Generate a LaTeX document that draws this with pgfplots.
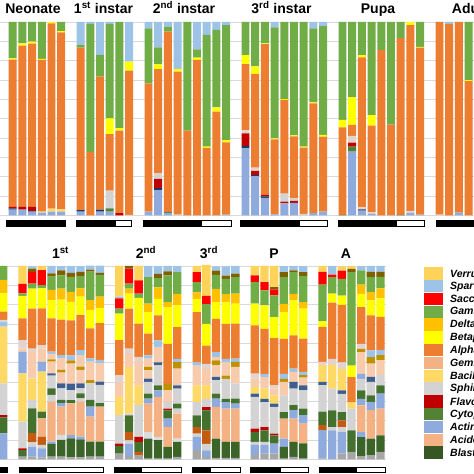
\documentclass[border=0pt]{standalone}
\usepackage{pgfplots}
\pgfplotsset{compat=1.18}
\usepackage{pgfplotstable}
\usepackage{fontspec}
\setmainfont{Liberation Sans}

\definecolor{gridgray}{HTML}{D9D9D9}
\definecolor{cBot}{HTML}{A6A6A6}
\definecolor{cAct}{HTML}{8FAADC}
\definecolor{cGray}{HTML}{D3D3D3}
\definecolor{cGrayL}{HTML}{DCDCDC}
\definecolor{cBlast}{HTML}{3B6428}
\definecolor{cBurnt}{HTML}{C55A11}
\definecolor{cAcid}{HTML}{F4B183}
\definecolor{cCyto}{HTML}{44722E}
\definecolor{cFlavo}{HTML}{C00000}
\definecolor{cNavy}{HTML}{203864}
\definecolor{cNavyB}{HTML}{3E5E8E}
\definecolor{cBacil}{HTML}{FFD966}
\definecolor{cGem}{HTML}{F8CBAD}
\definecolor{cOlive}{HTML}{BF9000}
\definecolor{cSpar}{HTML}{9DC3E6}
\definecolor{cLGray}{HTML}{E2D3CF}
\definecolor{cAlph}{HTML}{ED7D31}
\definecolor{cBeta}{HTML}{FFFF00}
\definecolor{cDelta}{HTML}{FFC000}
\definecolor{cGam}{HTML}{70AD47}
\definecolor{cSacc}{HTML}{FF0000}
\definecolor{cBrown}{HTML}{7F6000}
\definecolor{cVerr}{HTML}{FFD25A}
\definecolor{cCytoL}{HTML}{548235}
\definecolor{cBlastL}{HTML}{375623}

% top panel: t1 Actino, t2 Cyto, t3 navy, t4 Flavo, t5 Sphingo, t6 light, t7 Bacilli, t8 Alpha, t9 Beta, t10 Gamma, t11 Sparto
\pgfplotstableread{
x t1 t2 t3 t4 t5 t6 t7 t8 t9 t10 t11
0 3 0 0.7 0.7 0 0 0 76.1 0.7 18.8 0
1 3 0 0 1.4 0 0 0 83.4 1.2 11 0
2 2 0 0.4 2 0 0 0 84.4 1 10.2 0
3 1.5 0 0 0 0 0 0.5 78.4 0.6 19 0
4 2 0 0 0 0 0 1.6 95.7 0.7 0 0
5 2 0 0 0 0 0 1.2 91.5 0.6 4.7 0
7 2 0 0.8 0 0 0 0 84 0 1.3 11.9
8 0 0 0 0 0 0 0 32.7 0 66.3 1
9 2 0 1 0 0 0 0 68.8 0 11.2 17
10 2 1.7 0 0 9.1 0 0 29.3 8.1 48.8 1
11 0 0 0 1.2 0 0 0 42.7 1.2 54.9 0
12 0 0 0 0 0.3 0 0 74.6 4.6 0 20.5
14 2 0 0 0 0 0 0 66.3 0 28.4 3.3
15 13.1 0 1 4.8 2.9 0 0 53.9 2.4 8.8 13.1
16 1.3 0.5 0 0 0 0 0 93.2 0 2.6 2.4
17 0 0 0 0 0.5 0 0 73.8 1.4 0 24.3
18 0 0 0 0 0 0 0 43.8 0 56.2 0
19 0 0 0 0 0 0 0 80.4 1.2 4.3 14.1
20 0 0 0 0 0 0 0 34.9 0.7 57.7 6.7
21 0 0 0 0 0 0 0 53.7 2.2 40 4.1
22 0.5 0 0 0 0 0 0 37.3 1.2 59.4 1.6
24 34.7 0 1.3 6.4 0 1.7 0 34.1 4.7 17.1 0
25 20.4 0 0.5 2.2 0 1.7 0 48.2 4.1 22.9 0
26 9.1 0 0.8 0.7 0 0 0 77.9 0.5 11 0
27 0.6 0 0 0 0 0 0 38.7 0.5 57.4 2.8
28 6.2 0 0 1 4.1 0 0 48.4 0.5 39.8 0
29 6.5 0 0 1 1.3 0 0 32.1 0.5 58.6 0
30 0 0 0 0 0.8 0 0 34.3 0.5 64.4 0
31 1.4 0 0 0 0 0 0 56.6 0.5 38.2 3.3
32 2 0 0 0 0 0 0 38.8 0.8 56.3 2.1
34 0 0.3 0 0 0 0 0 45.3 3.8 50.6 0
35 33 2.6 0 2.1 0 3.4 0 5.7 14.3 38.9 0
36 2.5 0 0.7 0 0 1 0 77.5 1.2 17.1 0
37 1 0 0 0 0 0.6 0 44.8 5.5 48.1 0
38 0 0 0 0 0 0 0 85.5 0 14.5 0
39 0 0 0 0 0 0 0 46.9 0 53.1 0
40 0 0.3 0 0 0 0 0 91.3 0 8.4 0
41 1.4 0 0 0 0 1 0 96 1.6 0 0
42 0.5 0 0 0 0 0 0 86.2 0.5 12.8 0
44 0 0 0 0 0 0.5 0 99.5 0 0 0
45 0 0 0 0 0 0 0 99 0 0 1
46 1.5 0 0 0 0 0 0 98.5 0 0 0
47 0 0 0 0 0 0 0 69.5 0.5 30 0
}\toptab

% bottom panel layers (bottom -> top)
\pgfplotstableread{
x c1 c2 c3 c4 c5 c6 c7 c8 c9 c10 c11 c12 c13 c14 c15 c16 c17 c18 c19 c20 c21 c22 c23 c24 c25 c26 c27 c28 c29
0 0 13.4 0 0 0 0 0 0 0 0 8.3 1.2 16.4 0 29.3 0 0 0 0 2.6 0.9 4.3 9.5 6.9 7.2 0 0 0 0
2 1.4 0 0 0 0 0 0 0 0 0 3.4 0.9 13.8 0 25.0 11.2 0 0 1.7 0 4.3 11.2 11.6 0 1.4 4.8 0 0 9.3
3 1.4 5.2 2.1 0 4.8 0 0 0 0 0 12.9 0 4.3 0 11 0 13.9 0 0 0 1.7 20.7 10.3 0 2.6 6 1.7 1.2 0
4 1 4.7 1.7 0 4.3 0 0 9.5 0 0 3.4 0 0 0 20.7 5.2 0 0 6.9 0 1.7 19 10.3 0 1.7 7.8 0 0 2.1
5 1.4 0 0 6.6 0 0 1.2 20.7 3.4 0 3.4 0 6.6 1.2 0 0 6 1.2 2.8 1.2 0 17.2 9.5 5.2 6.9 0 1.7 3.8 0
6 1.4 0 0 8.6 0 2.6 0 14.7 0 1.7 1.7 0 6 2.6 0 0 5.5 1.4 6 1.7 0 18.4 10.3 5.7 6.9 0 2.6 2.1 0
7 1 0 0 9.8 0 0 1.7 16.4 0 0 1.7 0 5.2 3.4 0 0 10.3 1.7 0 2.6 0 18.1 9.5 5.2 7.8 0 2.1 3.4 0
8 1 0 0 9.3 0 0 1.4 18.1 1.7 0 2.6 0 2.6 2.6 0 0 6.9 1.7 6 2.6 0 18.1 9.5 4.3 6.4 0 2.2 2.9 0
9 1.4 0 0 7.8 0 0 0 12.9 0 5.2 3.4 0 8.6 0 0 0 0 1.7 9.5 1.7 0 15.5 9.5 5.2 14.7 0 1 2.1 0
10 1.4 0 0 7.8 0 0 0 18.1 0 0 1.7 0 9.5 1.7 0 0 9.5 0 0 1.7 0 19 7.8 6 11.2 0 1 3.8 0
12 2.9 0 0 0 0 0 0 0 0 0 4 1.2 14.7 0 9.5 0 7.4 0 0 0 3.8 18.1 13.8 0 2.6 5.2 0 0.9 16
13 1.7 6.4 1.7 0 4.3 0 0 0 0 0 8.6 0 0.9 0 24.1 0 6.9 0 0 0 2.6 20.7 7.8 2.6 2.6 7.8 1.4 0 0
14 2.1 0 0 0 1.7 0 0 0 0 0 5.2 2.6 16.4 0 10.3 0 12.1 0 0 0 2.6 17.2 13.3 0 2.2 6.9 0 0 7.4
15 0.4 0 0 10.3 0 3.4 0 14.7 0 2.6 2.6 0 6 1.7 0 0 4.4 1.7 4.3 1.7 0 11.2 11.2 4.3 13.8 0 0 5.7 0
16 0.4 0 0 9.5 0 1.7 0 20.7 0 3.4 2.6 0 10.3 1.5 0 0 8 0 0 3.4 0 12.9 8.6 6 4.7 0 2.2 4 0
17 0.4 0 0 6 0 0 0 10.3 0 4.3 4.3 0.9 3.4 0 0 0 6 3.4 0 0 0 20.7 19 2.6 13.8 0 2.1 2.8 0
18 1.2 0 0 7.8 0 1.7 0 12.9 2.6 0 2.6 0 7.8 1.7 0 0 8.6 3.4 0 1.7 0 16.4 11.2 6 11.2 0 0 3.1 0
20 4.7 6.9 1.7 0 3.4 0 0 0 0 0 6 0 6.9 0 8.6 0 6.9 0 3.4 1.7 0 25.9 6.9 3.4 5.2 5.2 0 0 3.1
21 1.2 3.4 3.4 0 6.9 0 0 0 0 0 10.4 1.7 4.3 0 6.9 0 8.6 0 0 0 2.6 9.4 11.2 0 10.3 4.3 0 0 16
22 0.7 0 0 10 0 0 0 16.4 0 4.3 2.6 0 6.9 1.7 0 0 6 2.6 1.7 2.6 0 17.2 8.6 6.9 7.2 0 2.2 2.2 0
23 0.7 0 0 8.3 0 0 0 17.2 0 3.4 1.7 0 10.3 0 0 0 0 1.7 6.9 1.7 0 18.1 11.2 4.3 7.8 0 1.7 4.8 0
24 0.7 0 0 8.3 0 0 0 17.2 0 2.6 2.6 0 7.8 0 0 0 8.6 2.6 0 1.7 0 18.1 10.3 5.2 8.6 0 1.7 4 0
26 2.1 5.5 1.4 0 0 0 0 0 0 0 5.2 1.7 16.4 1.7 3.4 0 4.3 0 0 0 2.6 25 11.2 0 11.2 3.4 0 0 4.8
27 2.9 4.7 1.4 0 0 0 0 0 0 0 6 1.7 12.9 1.7 5.2 0 6 0 0 1.7 0 23.3 12.1 0 7.8 4.3 0 0 8.3
28 2.9 5.2 0 0 0 0 0 0 0 0 4.3 0.9 13.8 1.7 4.3 0 3.4 0 0 0 1.7 24.5 10.9 0 11.2 3.1 1.2 0 10.9
29 0.4 0 0 6 0 0 4.3 10.3 0 0 3.4 0 8.6 0 0 0 7.1 1.5 0 2.6 0 18.1 13.8 4.3 13.8 0 2.6 3.1 0
30 1.2 0 0 7.8 0 0 0 12.1 0 4.3 2.6 0 8.6 3.4 0 0 5.2 0 0 1.7 0 17.2 18.1 3.4 11.2 0 1 2.2 0
31 0.4 0 0 7.8 0 0 0 10.3 0 4.3 3.4 0 9.5 2.6 0 0 4 1.2 0 1.7 0 17.2 15.5 3.4 13.4 0 2.1 3.1 0
33 0.4 14.7 0 0 2.6 0 0 0 0 0 6.9 0 13.8 1.7 8.6 0 0 0 0 0 1.7 18.1 2.9 0 19 6.6 0 0 3.1
34 0 15 1.7 0 0 0 0 0 0 0 8.6 0 11.2 0 12.4 0 0 0 0 0 3.1 29 4.7 0 8.6 1.2 0 4.5 0
35 2.9 11.2 2.6 0 3.4 0 0 0 0 0 4.3 0 9.5 1.7 11.2 0 0 0 0 0 3.4 29.7 4.8 0 8.6 4.3 0 0 2.2
36 3.8 0 0 0 0 0 0 0 0 0 11.2 0 11.2 0 3.4 0 0 0 0 0 0 12.9 6 0 48.3 0 1.7 0 1.4
37 1.7 0 0 9.8 0 0 2.6 13.8 0 3.4 4.3 0 6 0 0 2.6 11.2 1.7 0 0 2.6 19 6.9 4.7 7.4 0 0 2.2 0
38 2.1 0 0 8.6 0 0 0 14.7 0 4.3 3.4 0 6.9 2.6 0 0 6.9 3.4 0 3.4 0 18.1 7.8 4.3 7.8 0 2.6 3.1 0
39 3.8 0 0 8.6 0 0 0 13.8 0 7.8 4.3 0 5.2 0 0 0 7.8 2.6 0 2.6 0 17.2 9.5 5.2 6 0 2.6 3.1 0
}\bottab

\pgfplotsset{
  panel/.style={
    scale only axis, anchor=south west, clip=false,
    ymin=0, ymax=100, ybar stacked,
    ytick={0,10,...,100}, yticklabels={}, xtick=\empty,
    ymajorgrids, major grid style={draw=gridgray, line width=0.7pt},
    axis line style={draw=none}, major tick length=0pt,
  },
  seg/.style={fill=#1, draw=none},
}

\begin{document}
\begin{tikzpicture}
\useasboundingbox (0pt,0pt) rectangle (474pt,474pt);
\clip (0pt,0pt) rectangle (474pt,474pt);

% ---------- top panel ----------
\begin{axis}[panel, at={(0pt,258.5pt)}, width=474pt, height=193.5pt,
  xmin=-1.309, xmax=47.557, bar width=0.82]
\addplot[seg=cAct]   table[x=x,y=t1]  {\toptab};
\addplot[seg=cCytoL] table[x=x,y=t2]  {\toptab};
\addplot[seg=cNavy]  table[x=x,y=t3]  {\toptab};
\addplot[seg=cFlavo] table[x=x,y=t4]  {\toptab};
\addplot[seg=cGray]  table[x=x,y=t5]  {\toptab};
\addplot[seg=cLGray] table[x=x,y=t6]  {\toptab};
\addplot[seg=cBacil] table[x=x,y=t7]  {\toptab};
\addplot[seg=cAlph]  table[x=x,y=t8]  {\toptab};
\addplot[seg=cBeta]  table[x=x,y=t9]  {\toptab};
\addplot[seg=cGam]   table[x=x,y=t10] {\toptab};
\addplot[seg=cSpar]  table[x=x,y=t11] {\toptab};
% group indicator bars
\filldraw[black, line width=0.6pt] (axis cs:-0.62,-2.6) rectangle (axis cs:5.39,-5.4);
\filldraw[black, line width=0.6pt] (axis cs:6.6,-2.6) rectangle (axis cs:10.55,-5.4);
\draw[black, fill=white, line width=0.6pt] (axis cs:10.55,-2.6) rectangle (axis cs:12.27,-5.4);
\filldraw[black, line width=0.6pt] (axis cs:13.43,-2.6) rectangle (axis cs:19.48,-5.4);
\draw[black, fill=white, line width=0.6pt] (axis cs:19.48,-2.6) rectangle (axis cs:22.58,-5.4);
\filldraw[black, line width=0.6pt] (axis cs:23.5,-2.6) rectangle (axis cs:29.5,-5.4);
\draw[black, fill=white, line width=0.6pt] (axis cs:29.5,-2.6) rectangle (axis cs:32.43,-5.4);
\filldraw[black, line width=0.6pt] (axis cs:33.57,-2.6) rectangle (axis cs:39.59,-5.4);
\draw[black, fill=white, line width=0.6pt] (axis cs:39.59,-2.6) rectangle (axis cs:42.43,-5.4);
\filldraw[black, line width=0.6pt] (axis cs:43.64,-2.6) rectangle (axis cs:49,-5.4);
\end{axis}

% ---------- bottom panel ----------
\begin{axis}[panel, at={(0pt,14.7pt)}, width=386pt, height=193.3pt,
  xmin=-0.32, xmax=39.56, bar width=0.86]
\addplot[seg=cBot]    table[x=x,y=c1]  {\bottab};
\addplot[seg=cAct]    table[x=x,y=c2]  {\bottab};
\addplot[seg=cGray]   table[x=x,y=c3]  {\bottab};
\addplot[seg=cBlast]  table[x=x,y=c4]  {\bottab};
\addplot[seg=cBurnt]  table[x=x,y=c5]  {\bottab};
\addplot[seg=cGrayL]  table[x=x,y=c6]  {\bottab};
\addplot[seg=cAct]    table[x=x,y=c7]  {\bottab};
\addplot[seg=cAcid]   table[x=x,y=c8]  {\bottab};
\addplot[seg=cGray]   table[x=x,y=c9]  {\bottab};
\addplot[seg=cAct]    table[x=x,y=c10] {\bottab};
\addplot[seg=cCyto]   table[x=x,y=c11] {\bottab};
\addplot[seg=cFlavo]  table[x=x,y=c12] {\bottab};
\addplot[seg=cGray]   table[x=x,y=c13] {\bottab};
\addplot[seg=cNavyB]  table[x=x,y=c14] {\bottab};
\addplot[seg=cBacil]  table[x=x,y=c15] {\bottab};
\addplot[seg=cAct]    table[x=x,y=c16] {\bottab};
\addplot[seg=cGem]    table[x=x,y=c17] {\bottab};
\addplot[seg=cOlive]  table[x=x,y=c18] {\bottab};
\addplot[seg=cGem]    table[x=x,y=c19] {\bottab};
\addplot[seg=cSpar]   table[x=x,y=c20] {\bottab};
\addplot[seg=cLGray]  table[x=x,y=c21] {\bottab};
\addplot[seg=cAlph]   table[x=x,y=c22] {\bottab};
\addplot[seg=cBeta]   table[x=x,y=c23] {\bottab};
\addplot[seg=cDelta]  table[x=x,y=c24] {\bottab};
\addplot[seg=cGam]    table[x=x,y=c25] {\bottab};
\addplot[seg=cSacc]   table[x=x,y=c26] {\bottab};
\addplot[seg=cBrown]  table[x=x,y=c27] {\bottab};
\addplot[seg=cSpar]   table[x=x,y=c28] {\bottab};
\addplot[seg=cVerr]   table[x=x,y=c29] {\bottab};
% group indicator bars
\filldraw[black, line width=0.6pt] (axis cs:-1,-4.0) rectangle (axis cs:0.43,-6.8);
\filldraw[black, line width=0.6pt] (axis cs:1.64,-4.0) rectangle (axis cs:4.5,-6.8);
\draw[black, fill=white, line width=0.6pt] (axis cs:4.5,-4.0) rectangle (axis cs:10.35,-6.8);
\filldraw[black, line width=0.6pt] (axis cs:11.49,-4.0) rectangle (axis cs:14.32,-6.8);
\draw[black, fill=white, line width=0.6pt] (axis cs:14.32,-4.0) rectangle (axis cs:18.45,-6.8);
\filldraw[black, line width=0.6pt] (axis cs:19.59,-4.0) rectangle (axis cs:21.45,-6.8);
\draw[black, fill=white, line width=0.6pt] (axis cs:21.45,-4.0) rectangle (axis cs:24.47,-6.8);
\filldraw[black, line width=0.6pt] (axis cs:25.58,-4.0) rectangle (axis cs:28.6,-6.8);
\draw[black, fill=white, line width=0.6pt] (axis cs:28.6,-4.0) rectangle (axis cs:31.5,-6.8);
\filldraw[black, line width=0.6pt] (axis cs:32.63,-4.0) rectangle (axis cs:36.53,-6.8);
\draw[black, fill=white, line width=0.6pt] (axis cs:36.53,-4.0) rectangle (axis cs:39.52,-6.8);
\end{axis}

% ---------- titles ----------
\begin{scope}[every node/.style={font=\fontsize{14}{16}\selectfont\bfseries, inner sep=0pt}]
\node[anchor=base] at (33pt,460.5pt) {Neonate};
\node[anchor=base] at (103.5pt,460.5pt) {1\textsuperscript{st} instar};
\node[anchor=base] at (184pt,460.5pt) {2\textsuperscript{nd} instar};
\node[anchor=base] at (281.5pt,460.5pt) {3\textsuperscript{rd} instar};
\node[anchor=base] at (378pt,460.5pt) {Pupa};
\node[anchor=base west] at (451.7pt,460.5pt) {Adult};
\node[anchor=base] at (60.5pt,215pt) {1\textsuperscript{st}};
\node[anchor=base] at (146pt,215pt) {2\textsuperscript{nd}};
\node[anchor=base] at (209pt,215pt) {3\textsuperscript{rd}};
\node[anchor=base] at (274pt,215pt) {P};
\node[anchor=base] at (346pt,215pt) {A};
\end{scope}

% ---------- legend ----------
\foreach \i/\c/\t in {0/cVerr/Verrucomicrobiae, 1/cSpar/Spartobacteria, 2/cSacc/Saccharibacteria,
  3/cGam/Gammaproteobacteria, 4/cDelta/Deltaproteobacteria, 5/cBeta/Betaproteobacteria,
  6/cAlph/Alphaproteobacteria, 7/cAcid/Gemmatimonadetes, 8/cBacil/Bacilli,
  9/cGray/Sphingobacteriia, 10/cFlavo/Flavobacteriia, 11/cCytoL/Cytophagia,
  12/cAct/Actinobacteria, 13/cAcid/Acidobacteria, 14/cBlastL/Blastocatellia}{
  \fill[\c] (424pt,{206.7pt-\i*12.8pt}) rectangle (442.7pt,{194.4pt-\i*12.8pt});
  \node[anchor=west, inner sep=0pt, font=\fontsize{10.5}{12}\selectfont\bfseries\itshape]
    at (450pt,{200.5pt-\i*12.8pt}) {\t};
}
\end{tikzpicture}
\end{document}
